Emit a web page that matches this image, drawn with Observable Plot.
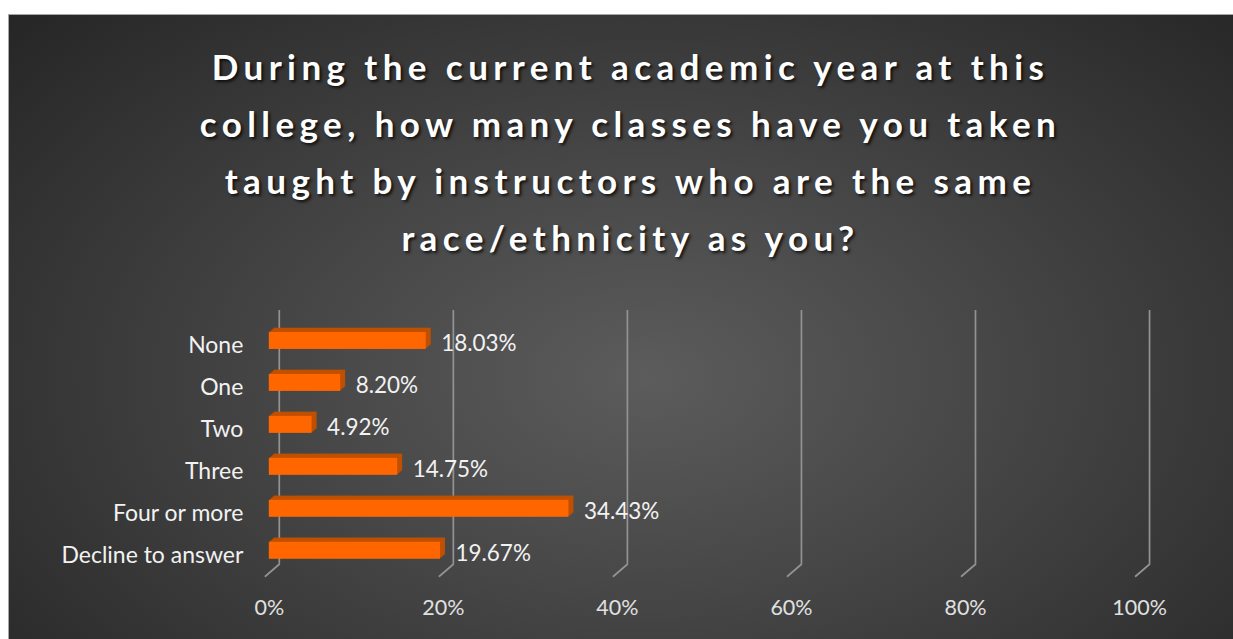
<!DOCTYPE html>
<html>
<head>
<meta charset="utf-8">
<script src="https://cdn.jsdelivr.net/npm/d3@7"></script>
<script src="https://cdn.jsdelivr.net/npm/@observablehq/plot@0.6"></script>
<style>
  html, body { margin: 0; padding: 0; background: #ffffff; width: 1233px; height: 639px; overflow: hidden; }
  #panel {
    position: absolute; left: 8px; top: 14px; width: 1225px; height: 625px;
    box-sizing: border-box; border-top: 1px solid #a6a6a6; border-left: 1px solid #a6a6a6;
    background: radial-gradient(ellipse 70% 85% at 52% 58%, #5c5c5c 0%, #474747 40%, #262626 100%);
    overflow: hidden;
  }
  #title {
    position: absolute; left: 0; top: 23px; width: 1225px; box-sizing: border-box; padding-left: 18px;
    text-align: center;
    font-family: Lato, sans-serif; font-weight: 700; font-size: 35px; line-height: 57px;
    letter-spacing: 5.4px; color: #ffffff; text-shadow: 2px 2px 3px rgba(0,0,0,0.75);
  }
  #chart { position: absolute; left: 0; top: 276px; }
</style>
</head>
<body>
<div id="panel">
  <div id="title">During the current academic year at this<br>college, how many classes have you taken<br>taught by instructors who are the same<br>race/ethnicity as you?</div>
  <div id="chart"></div>
</div>
<script>
const categories = ["None", "One", "Two", "Three", "Four or more", "Decline to answer"];
const values = [18.03, 8.20, 4.92, 14.75, 34.43, 19.67];
const tickValues = [0, 20, 40, 60, 80, 100];

const data = categories.map((c, i) => ({category: c, value: values[i]}));

const barFront = "#ff6600";
const barDepth = "#c05000";
const gridColor = "#939393";

const depthLayers = [1, 2, 3, 4, 5];
const extrude = depthLayers.map(k =>
  Plot.barX(data, {x: "value", y: "category", fill: barDepth, dx: k, dy: -k * 0.85})
);

const spike = {draw(context, length) { context.moveTo(0, 0); context.lineTo(0, -length); }};

const chart = Plot.plot({
  width: 1225,
  height: 349,
  marginLeft: 260,
  marginRight: 94,
  marginTop: 15,
  marginBottom: 56,
  style: {background: "transparent", fontFamily: "Lato, sans-serif", fontSize: "21px", color: "#e8e8e8", overflow: "visible"},
  x: {domain: [0, 100], axis: null},
  y: {domain: categories, padding: 0.6, axis: null},
  marks: [
    Plot.ruleX(tickValues, {x: d => d, dx: 10, insetTop: 4, insetBottom: 20, stroke: gridColor, strokeWidth: 1.7}),
    Plot.vector(tickValues, {x: d => d, frameAnchor: "bottom", dx: 10, dy: -20, anchor: "start", length: 18.4, rotate: 229.4, shape: spike, stroke: gridColor, strokeWidth: 1.7}),
    ...extrude,
    Plot.barX(data, {x: "value", y: "category", fill: barFront}),
    Plot.text(data, {x: "value", y: "category", text: d => d.value.toFixed(2) + "%", dx: 15, dy: 3, textAnchor: "start", fill: "#f2f2f2", fontSize: 22.5}),
    Plot.axisY({tickSize: 0, tickPadding: 26, dy: 5, fill: "#f2f2f2", fontSize: 23, label: null}),
    Plot.axisX({ticks: tickValues, tickFormat: d => d + "%", tickSize: 0, tickPadding: 15, fill: "#e0e0e0", fontSize: 21.5, label: null})
  ]
});
document.getElementById("chart").appendChild(chart);
</script>
</body>
</html>
